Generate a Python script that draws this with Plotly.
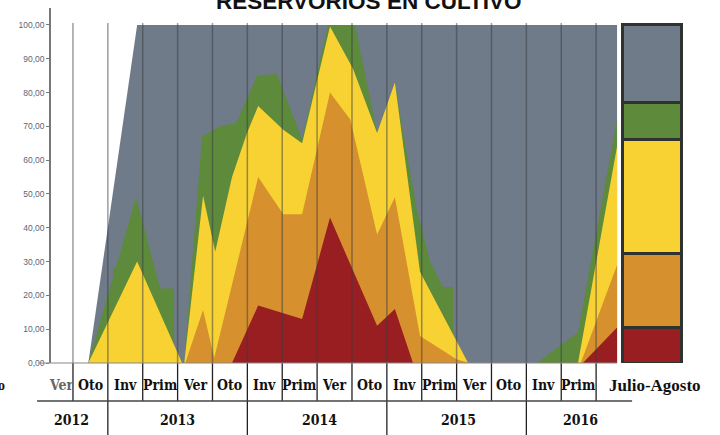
import plotly.graph_objects as go

# ---- data (x in category units: season k spans [k-1, k]) ----
gray_x = [1.44, 2.84, 16.60]
gray_y = [0, 100, 100]

green_x = [1.44, 2.15, 2.15, 2.24, 2.81, 3.50, 3.90, 3.90, 4.13, 4.19, 4.70, 5.22, 5.68, 6.28, 6.85,
           7.57, 8.31, 9.09, 9.72, 10.23, 10.52, 10.87, 11.24, 11.61, 11.90, 11.90, 12.33, 14.30, 15.48, 16.60]
green_y = [0, 25.5, 28, 28.5, 49, 22, 22, 5.3, 0, 0, 67, 70, 71, 85, 85.5,
           66, 100, 100, 68, 83, 65, 45, 30, 22.5, 22.5, 8.5, 0, 0, 9, 72]

yellow_x = [1.44, 2.84, 4.13, 4.19, 4.73, 5.08, 5.56, 5.99, 6.31, 7.03, 7.57, 8.37, 9.03, 9.72,
            10.23, 10.95, 12.33, 15.48, 16.60]
yellow_y = [0, 30, 0, 0, 49.5, 33, 55, 68, 76, 69, 65, 99.5, 87, 68, 83, 27, 0, 0, 64]

orange_x = [4.22, 4.73, 5.05, 6.31, 7.03, 7.57, 8.37, 8.95, 9.72, 10.23, 10.95, 12.01, 12.38, 15.56, 16.60]
orange_y = [0, 15.7, 1.5, 55, 44, 44, 80, 72, 38, 49, 8, 1, 0, 0, 29]

red_x = [5.56, 6.31, 7.57, 8.37, 9.72, 10.23, 10.75, 15.62, 16.60]
red_y = [0, 17, 13, 43, 11, 16, 0, 0, 10.5]

# Julio-Agosto stacked block (bottom to top)
ja_values = [10.5, 22, 33.5, 11, 23]
ja_pos = 17.59

seasons = ["Ver", "Oto", "Inv", "Prim", "Ver", "Oto", "Inv", "Prim",
           "Ver", "Oto", "Inv", "Prim", "Ver", "Oto", "Inv", "Prim"]
season_pos = [0.66] + [k + 0.5 for k in range(1, 16)]
years = ["2012", "2013", "2014", "2015", "2016"]
year_pos = [0.95, 3.99, 8.06, 12.04, 15.54]
year_breaks = [2, 6, 10, 14]
yticks = list(range(0, 101, 10))
ytick_text = [f"{v},00" for v in yticks]

C_GRAY = "#707B89"
C_GREEN = "#5E8A3B"
C_YELLOW = "#F8D232"
C_ORANGE = "#D6902D"
C_RED = "#981E22"

fig = go.Figure()
for xs, ys, c in [(gray_x, gray_y, C_GRAY), (green_x, green_y, C_GREEN),
                  (yellow_x, yellow_y, C_YELLOW), (orange_x, orange_y, C_ORANGE),
                  (red_x, red_y, C_RED)]:
    fig.add_trace(go.Scatter(x=xs, y=ys, mode="lines", fill="tozeroy",
                             fillcolor=c, line=dict(width=0, color=c),
                             hoverinfo="skip"))

for v, c in zip(ja_values, [C_RED, C_ORANGE, C_YELLOW, C_GREEN, C_GRAY]):
    fig.add_trace(go.Bar(x=[ja_pos], y=[v], width=[1.69], marker=dict(
        color=c, line=dict(color="#2f3330", width=3)), hoverinfo="skip"))

shapes = []
for k in range(1, 17):
    shapes.append(dict(type="line", xref="x", yref="paper", x0=k, x1=k, y0=0, y1=0.958,
                       line=dict(color="rgba(55,60,65,0.5)", width=1.5), layer="above"))
    shapes.append(dict(type="line", xref="x", yref="paper", x0=k, x1=k, y0=0, y1=-0.107,
                       line=dict(color="#222", width=1.3)))
for k in year_breaks:
    shapes.append(dict(type="line", xref="x", yref="paper", x0=k, x1=k, y0=-0.107, y1=-0.21,
                       line=dict(color="#222", width=1.3)))
shapes.append(dict(type="line", xref="paper", yref="paper", x0=-0.022, x1=0.918, y0=-0.107, y1=-0.107,
                   line=dict(color="#444", width=1.5)))
shapes.append(dict(type="line", xref="paper", yref="paper", x0=-0.02, x1=0.894, y0=0, y1=0,
                   line=dict(color="#888", width=1)))
fig.update_layout(shapes=shapes)

ann = []
lab_font = dict(family="DejaVu Serif Condensed, Liberation Serif, serif", size=14, color="#111")
for s, p in zip(seasons, season_pos):
    f = dict(lab_font)
    if p < 1:
        f["color"] = "#666"
    ann.append(dict(x=p, y=-0.062, xref="x", yref="paper", text=f"<b>{s}</b>", showarrow=False,
                    font=f, xanchor="center", yanchor="middle"))
for s, p in zip(years, year_pos):
    ann.append(dict(x=p, y=-0.161, xref="x", yref="paper", text=f"<b>{s}</b>", showarrow=False,
                    font=lab_font, xanchor="center", yanchor="middle"))
ann.append(dict(x=17.68, y=-0.062, xref="x", yref="paper", text="<b>Julio-Agosto</b>", showarrow=False,
                font=dict(family="Liberation Serif, serif", size=17, color="#111"),
                xanchor="center", yanchor="middle"))
ann.append(dict(x=-0.078, y=-0.062, xref="paper", yref="paper", text="<b>o</b>", showarrow=False,
                font=dict(family="Liberation Serif, serif", size=14, color="#111"),
                xanchor="center", yanchor="middle"))
ann.append(dict(x=0.502, y=1.017, xref="paper", yref="paper", text="<b>RESERVORIOS EN CULTIVO</b>",
                showarrow=False, font=dict(family="Liberation Sans, Arial, sans-serif", size=22.5, color="#111"),
                xanchor="center", yanchor="middle"))
fig.update_layout(annotations=ann)

fig.update_layout(
    width=720, height=435, margin=dict(l=51, r=36, t=8, b=72),
    paper_bgcolor="white", plot_bgcolor="white", showlegend=False, barmode="stack",
    xaxis=dict(range=[0.37, 18.52], showticklabels=False, showgrid=False, zeroline=False,
               showline=False, fixedrange=True),
    yaxis=dict(range=[0, 105], tickvals=yticks, ticktext=ytick_text, showgrid=False,
               zeroline=False, showline=True, linecolor="#777", linewidth=1.5,
               ticks="outside", ticklen=3, tickcolor="#777", fixedrange=True,
               tickfont=dict(family="Liberation Sans, Arial, sans-serif", size=8.5, color="#5b6478")),
)

fig.write_html("out.html", config={"displayModeBar": False},
               post_script="document.body.style.margin='0px';document.body.style.overflow='hidden';")
